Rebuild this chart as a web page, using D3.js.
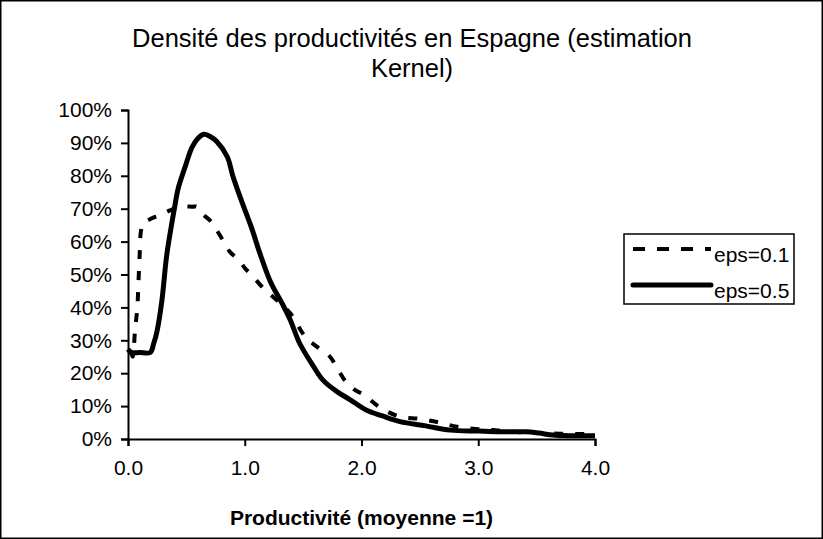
<!DOCTYPE html>
<html>
<head>
<meta charset="utf-8">
<script src="https://cdn.jsdelivr.net/npm/d3@7"></script>
<style>
  html, body { margin: 0; padding: 0; background: #fff; }
  svg { display: block; font-family: "Liberation Sans", Arial, sans-serif; }
</style>
</head>
<body>
<div class="chart"></div>
<script>
// Densité des productivités - kernel estimates

const xTicks = [0, 1, 2, 3, 4];
const yTicks = [0, 0.1, 0.2, 0.3, 0.4, 0.5, 0.6, 0.7, 0.8, 0.9, 1.0];

// eps=0.1 (dashed)
const eps01X = [0.02, 0.04, 0.06, 0.08, 0.09, 0.10, 0.11, 0.13, 0.20, 0.27, 0.36, 0.45, 0.55, 0.59, 0.63, 0.70, 0.75, 0.82, 0.87, 0.95, 1.00, 1.06, 1.16, 1.28, 1.39, 1.52, 1.62, 1.73, 1.80, 1.87, 1.94, 2.02, 2.17, 2.33, 2.50, 2.67, 2.82, 3.00, 3.13, 3.30, 3.47, 3.70, 3.91, 4.00];
const eps01Y = [0.27, 0.25, 0.33, 0.40, 0.48, 0.56, 0.63, 0.655, 0.67, 0.68, 0.695, 0.706, 0.706, 0.706, 0.686, 0.665, 0.64, 0.60, 0.57, 0.544, 0.52, 0.498, 0.458, 0.42, 0.382, 0.31, 0.28, 0.25, 0.21, 0.172, 0.15, 0.134, 0.093, 0.068, 0.061, 0.05, 0.037, 0.03, 0.027, 0.022, 0.019, 0.016, 0.015, 0.013];

// eps=0.5 (solid)
const eps05X = [0.00, 0.03, 0.10, 0.19, 0.22, 0.25, 0.29, 0.33, 0.37, 0.40, 0.43, 0.49, 0.55, 0.60, 0.65, 0.70, 0.76, 0.85, 0.90, 0.97, 1.06, 1.13, 1.22, 1.32, 1.39, 1.47, 1.59, 1.67, 1.79, 1.90, 2.04, 2.18, 2.33, 2.55, 2.76, 3.00, 3.19, 3.41, 3.52, 3.64, 3.80, 4.00];
const eps05Y = [0.273, 0.263, 0.263, 0.263, 0.29, 0.33, 0.42, 0.554, 0.645, 0.706, 0.762, 0.828, 0.888, 0.914, 0.926, 0.92, 0.904, 0.858, 0.797, 0.726, 0.64, 0.564, 0.478, 0.412, 0.362, 0.291, 0.22, 0.179, 0.144, 0.12, 0.088, 0.07, 0.053, 0.04, 0.027, 0.024, 0.022, 0.022, 0.018, 0.012, 0.01, 0.01];

const seriesNames = ['eps=0.1', 'eps=0.5'];

const width = 823;
const height = 539;
const margin = { top: 110, right: 228, bottom: 100, left: 128 };
const chartWidth = width - margin.left - margin.right;
const chartHeight = height - margin.top - margin.bottom;

const svg = d3.select('.chart')
    .append('svg')
    .attr('width', width)
    .attr('height', height);

// Chart area frame
svg.append('rect')
    .attr('x', 0.75)
    .attr('y', 0.75)
    .attr('width', width - 1.5)
    .attr('height', height - 1.5)
    .attr('fill', '#fff')
    .attr('stroke', '#000')
    .attr('stroke-width', 1.5);

// Title
const title = svg.append('text')
    .attr('text-anchor', 'middle')
    .attr('font-size', '25.5px')
    .attr('fill', '#000');
title.append('tspan').attr('x', 412).attr('y', 47)
    .text('Densité des productivités en Espagne (estimation');
title.append('tspan').attr('x', 412).attr('y', 77)
    .text('Kernel)');

const g = svg.append('g')
    .attr('transform', `translate(${margin.left},${margin.top})`);

const xScale = d3.scaleLinear().domain([0, 4]).range([0, chartWidth]);
const yScale = d3.scaleLinear().domain([0, 1]).range([chartHeight, 0]);

// Y axis
g.append('g')
    .call(d3.axisLeft(yScale)
        .tickValues(yTicks)
        .tickFormat(d3.format('.0%'))
        .tickSize(7)
        .tickPadding(9));

// X axis
g.append('g')
    .attr('transform', `translate(0,${chartHeight})`)
    .call(d3.axisBottom(xScale)
        .tickValues(xTicks)
        .tickFormat(d3.format('.1f'))
        .tickSize(7)
        .tickPadding(14));

g.selectAll('.domain, .tick line')
    .attr('stroke', '#000')
    .attr('stroke-width', 2);
g.selectAll('.tick text')
    .attr('fill', '#000')
    .attr('font-size', '21px')
    .attr('font-family', '"Liberation Sans", Arial, sans-serif');

// Lines
const line = d3.line()
    .x(d => xScale(d[0]))
    .y(d => yScale(d[1]))
    .curve(d3.curveCatmullRom);

g.append('path')
    .datum(d3.zip(eps01X, eps01Y))
    .attr('fill', 'none')
    .attr('stroke', '#000')
    .attr('stroke-width', 4)
    .attr('stroke-dasharray', '9,12')
    .attr('d', line);

g.append('path')
    .datum(d3.zip(eps05X, eps05Y))
    .attr('fill', 'none')
    .attr('stroke', '#000')
    .attr('stroke-width', 5)
    .attr('stroke-linejoin', 'round')
    .attr('d', line);

// Axis titles
svg.append('text')
    .attr('x', margin.left + chartWidth / 2)
    .attr('y', 525)
    .attr('text-anchor', 'middle')
    .attr('font-size', '21px')
    .attr('font-weight', 'bold')
    .text('Productivité (moyenne =1)');

svg.append('clipPath')
    .attr('id', 'ylab-clip')
    .append('rect')
    .attr('x', 0)
    .attr('y', 209)
    .attr('width', 100)
    .attr('height', 200);

svg.append('text')
    .attr('clip-path', 'url(#ylab-clip)')
    .attr('transform', 'translate(38,338) rotate(-90)')
    .attr('font-size', '21.5px')
    .attr('font-weight', 'bold')
    .text('Frequences');

// Legend
const legend = svg.append('g')
    .attr('transform', 'translate(624,234)');

legend.append('rect')
    .attr('width', 170)
    .attr('height', 70)
    .attr('fill', '#fff')
    .attr('stroke', '#000')
    .attr('stroke-width', 1.5);

const legendStyles = [
    { dash: '12,12', width: 4, cap: 'butt', y: 15 },
    { dash: null, width: 5, cap: 'round', y: 51 }
];

seriesNames.forEach((name, i) => {
    const s = legendStyles[i];
    legend.append('line')
        .attr('x1', 9)
        .attr('x2', 87)
        .attr('y1', s.y)
        .attr('y2', s.y)
        .attr('stroke', '#000')
        .attr('stroke-width', s.width)
        .attr('stroke-linecap', s.cap)
        .attr('stroke-dasharray', s.dash);

    legend.append('text')
        .attr('x', 90)
        .attr('y', s.y + 13)
        .attr('font-size', '21px')
        .text(name);
});
</script>
</body>
</html>
